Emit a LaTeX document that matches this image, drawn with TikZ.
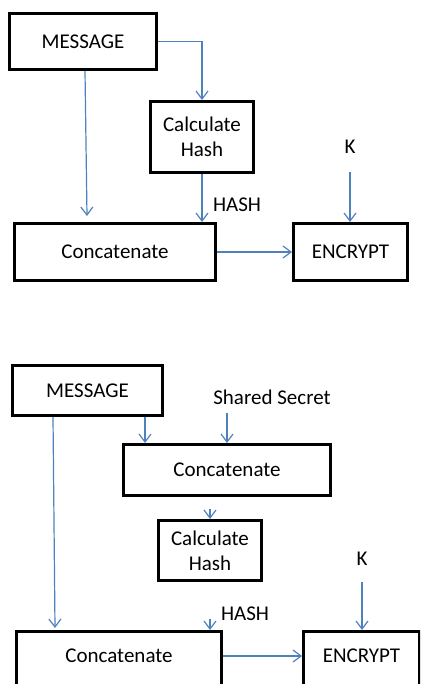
\documentclass[tikz,border=0pt]{standalone}
\usepackage{fontspec}
\setmainfont{Carlito}
\usetikzlibrary{arrows.meta,calc}
\definecolor{arrowblue}{HTML}{4F81BD}
\begin{document}
\begin{tikzpicture}[x=1pt,y=-1pt,
  box/.style={draw=black,line width=3pt,rectangle,align=center,font=\fontsize{21}{25}\selectfont,inner sep=0pt},
  lbl/.style={font=\fontsize{21}{24}\selectfont,inner sep=0pt},
  conn/.style={draw=arrowblue,line width=1.2pt,-{Straight Barb[length=8pt,width=12pt]}}]
\useasboundingbox (0,0) rectangle (420,684);
\clip (0,0) rectangle (420,684);
% ---------- top diagram ----------
\node[box,minimum width=147pt,minimum height=56pt] (msg1) at (83,41.5) {MESSAGE};
\node[box,minimum width=103pt,minimum height=71pt] (hash1) at (202,137) {Calculate\\Hash};
\node[box,minimum width=201pt,minimum height=57pt] (cat1) at (115,252) {Concatenate};
\node[box,minimum width=114pt,minimum height=57pt] (enc1) at (350.5,252) {ENCRYPT};
\node[lbl] (k1) at (350,147) {K};
\node[lbl] (h1) at (237,205) {HASH};
\draw[conn] (msg1.east) -| (hash1.north);
\draw[conn] ([xshift=2pt]msg1.south) -- ([xshift=-28pt,yshift=6pt]cat1.north);
\draw[conn] (hash1.south) -- (hash1.south |- cat1.north);
\draw[conn] (cat1.east) -- (enc1.west);
\draw[conn] ($(k1.south)+(0,18)$) -- (k1.south |- enc1.north);
% ---------- bottom diagram ----------
\node[box,minimum width=150pt,minimum height=50pt] (msg2) at (87.5,390.5) {MESSAGE};
\node[box,minimum width=207pt,minimum height=51pt] (cat2) at (227,470) {Concatenate};
\node[box,minimum width=103pt,minimum height=60pt] (hash2) at (210,550.5) {Calculate\\Hash};
\node[box,minimum width=205pt,minimum height=100pt,text height=0pt,text depth=38pt] (cat3) at (119,681.5) {Concatenate};
\node[box,minimum width=116pt,minimum height=100pt,text height=0pt,text depth=38pt] (enc2) at (361.5,681.5) {ENCRYPT};
\node[lbl] (ss) at (272,397) {Shared Secret};
\node[lbl] (k2) at (362,559) {K};
\node[lbl] (h2) at (245,614) {HASH};
\draw[conn] ([xshift=57.5pt]msg2.south) -- ([xshift=57.5pt]msg2.south |- cat2.north);
\draw[conn] ($(ss.south -| cat2.north)+(0,8)$) -- (cat2.north);
\draw[conn] ($(cat2.south -| hash2.north)+(0,12)$) -- (hash2.north);
\draw[conn] ([xshift=-34.5pt]msg2.south) -- ([xshift=-64pt,yshift=2pt]cat3.north);
\draw[conn] ($(hash2.south |- cat3.north)+(0,-11)$) -- (hash2.south |- cat3.north);
\draw[conn] ($(k2.south)+(0,16)$) -- (k2.south |- enc2.north);
\draw[conn] ($(cat3.north east)+(0,26)$) -- ($(enc2.north west)+(0,26)$);
\end{tikzpicture}
\end{document}
